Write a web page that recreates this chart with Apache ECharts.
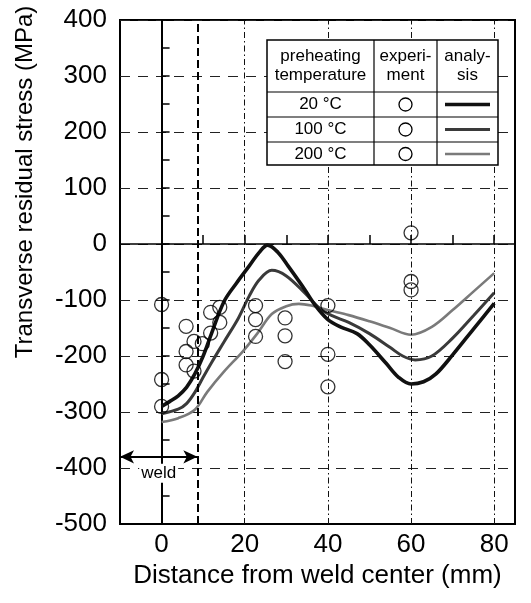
<!DOCTYPE html>
<html>
<head>
<meta charset="utf-8">
<script src="https://cdn.jsdelivr.net/npm/echarts@6/dist/echarts.min.js"></script>
<style>
html,body{margin:0;padding:0;background:#fff;}
#chart{width:531px;height:603px;}
</style>
</head>
<body>
<div id="chart"></div>
<script>
// ---- data ----
const yTicks = [-500,-400,-300,-200,-100,0,100,200,300,400];
const xTickLabels = [0,20,40,60,80];
const gridX = [20,40,60,80];
const weldEdge = 8.6;
const weldArrowY = -380;
const weldArrowStart = -10;

const seriesNames = ['20 °C','100 °C','200 °C'];

const t20X = [0,2,4,6,8,10,12,15,18,21,23.5,25.5,28,30.5,34.5,37,40,43,47,50,54,57,60,63,66,70,75,80];
const t20Y = [-290,-281,-271,-256,-232,-200,-160,-103,-70,-40,-15,-2,-15,-40,-82,-110,-135,-148,-160,-180,-213,-238,-250,-246,-232,-198,-152,-106];

const t100X = [0,4,6,8,10,12,15,18.5,21,23.5,26.5,30,34.5,38,41,45,50,55,58,61,65,70,75,80];
const t100Y = [-303,-295,-285,-265,-238,-212,-175,-132,-94,-64,-47,-57,-88,-115,-128,-140,-160,-185,-200,-207,-200,-168,-128,-87];

const t200X = [0,4,8,11,15,19.5,23,26.5,30,33,36,40,45,50,55,60,65,70,75,80];
const t200Y = [-318,-311,-296,-264,-228,-192,-160,-125,-111,-107,-110,-118,-127,-138,-150,-162,-148,-118,-85,-52];

const expX = [0,0,0,5.9,5.9,5.9,7.8,7.8,9.8,11.8,11.8,14,14,22.6,22.6,22.6,29.7,29.7,29.7,40,40,40,60,60,60];
const expY = [-108,-242,-290,-147,-192,-216,-174,-227,-178,-159,-122,-113,-140,-110,-135,-165,-132,-164,-210,-110,-197,-255,20,-67,-82];

// ---- build ----
const zip = (xs, ys) => xs.map((x, i) => [x, ys[i]]);
const FONT = 'Liberation Sans, Arial, sans-serif';
const lineColors = ['#111111','#3a3a3a','#7a7a7a'];
const lineWidths = [3.6, 3, 2.6];

const chart = echarts.init(document.getElementById('chart'), null, {renderer:'canvas'});

const lineSeries = [[t20X,t20Y],[t100X,t100Y],[t200X,t200Y]].map((d, i) => ({
  name: seriesNames[i],
  type: 'line',
  xAxisIndex: 0, yAxisIndex: 0,
  data: zip(d[0], d[1]),
  smooth: 0.35,
  showSymbol: false,
  symbol: 'none',
  lineStyle: {color: lineColors[i], width: lineWidths[i]},
  z: 5 - i
}));

const option = {
  animation: false,
  backgroundColor: '#fff',
  textStyle: {fontFamily: FONT},
  grid: {left: 120, right: 16, top: 20, bottom: 79, show: true, borderColor: '#000', borderWidth: 2, backgroundColor: 'transparent'},
  xAxis: [
    {
      type: 'value', min: -10, max: 85, interval: 10,
      axisLine: {onZero: false, lineStyle: {color: '#000', width: 2}},
      axisTick: {show: false},
      splitLine: {show: false},
      axisLabel: {
        fontSize: 26, color: '#000', margin: 8, fontFamily: FONT,
        showMinLabel: false, showMaxLabel: false,
        formatter: v => xTickLabels.includes(v) ? String(v) : ''
      },
      name: 'Distance from weld center (mm)',
      nameLocation: 'middle', nameGap: 38,
      nameTextStyle: {fontSize: 26, color: '#000', fontFamily: FONT}
    },
    {
      type: 'value', min: -10, max: 85, interval: 10, position: 'bottom',
      axisLine: {onZero: true, show: true, lineStyle: {color: '#000', width: 1.5}},
      axisTick: {show: true, inside: true, length: 9, lineStyle: {color: '#000', width: 1.5}},
      axisLabel: {show: false},
      splitLine: {show: false}
    }
  ],
  yAxis: [
    {
      type: 'value', min: yTicks[0], max: yTicks[yTicks.length-1], interval: 100,
      axisLine: {show: true, lineStyle: {color: '#000', width: 2}},
      axisTick: {show: false},
      axisLabel: {fontSize: 26, color: '#000', margin: 13, fontFamily: FONT},
      splitLine: {show: true, lineStyle: {type: [10, 8], color: '#222', width: 1}},
      name: 'Transverse residual stress (MPa)',
      nameLocation: 'middle', nameGap: 83,
      nameTextStyle: {fontSize: 24, color: '#000', fontFamily: FONT, padding: [0, 0, 0, 180]}
    },
    {
      type: 'value', min: -500, max: 400, interval: 50, position: 'left',
      axisLine: {onZero: true, show: true, lineStyle: {color: '#000', width: 1.5}},
      axisTick: {show: true, inside: true, length: 8, lineStyle: {color: '#000', width: 1.5}},
      axisLabel: {show: false},
      splitLine: {show: false}
    }
  ],
  series: [
    ...lineSeries,
    {
      name: 'experiment',
      type: 'scatter',
      xAxisIndex: 0, yAxisIndex: 0,
      data: zip(expX, expY),
      symbol: 'circle',
      symbolSize: 14,
      itemStyle: {color: 'rgba(255,255,255,0)', borderColor: '#000', borderWidth: 1.3},
      z: 6,
      markLine: {
        silent: true,
        symbol: 'none',
        animation: false,
        label: {show: false},
        data: [
          ...gridX.map(v => ({xAxis: v, lineStyle: {type: [6, 3, 1.5, 3], color: '#111', width: 1}})),
          {xAxis: weldEdge, lineStyle: {type: [8, 4], color: '#000', width: 2}},
          [
            {coord: [weldArrowStart, weldArrowY], symbol: 'arrow', symbolSize: [10, 14]},
            {coord: [weldEdge, weldArrowY], symbol: 'arrow', symbolSize: [10, 14],
             lineStyle: {type: 'solid', color: '#000', width: 2},
             label: {show: true, formatter: 'weld', position: 'insideMiddleBottom', distance: 7, fontSize: 17, color: '#000', fontFamily: FONT, backgroundColor: '#fff', padding: [1, 2, 1, 2]}}
          ]
        ]
      }
    }
  ],
  graphic: (function(){
    const L = 267, T = 40;
    const W = 231, H = 125, c1 = 107, c2 = 170, r1 = 52, r2 = 77, r3 = 102;
    const rowC = [64.5, 89.5, 114];
    const Z = 100;
    const ch = [];
    ch.push({type:'rect', z:Z, shape:{x:L,y:T,width:W,height:H}, style:{fill:'#fff', stroke:'#000', lineWidth:1.5}});
    [c1, c2].forEach(x => ch.push({type:'line', z:Z+1, shape:{x1:L+x,y1:T,x2:L+x,y2:T+H}, style:{stroke:'#000', lineWidth:1.2}}));
    [r1, r2, r3].forEach(y => ch.push({type:'line', z:Z+1, shape:{x1:L,y1:T+y,x2:L+W,y2:T+y}, style:{stroke:'#000', lineWidth:1.2}}));
    const hdr = [['preheating\ntemperature', c1/2], ['experi-\nment', (c1+c2)/2], ['analy-\nsis', (c2+W)/2]];
    hdr.forEach(h => ch.push({type:'text', z:Z+2, x:L+h[1], y:T+r1/2, style:{text:h[0], fill:'#000', font:'17px ' + FONT, align:'center', verticalAlign:'middle', lineHeight:19}}));
    seriesNames.forEach((n, i) => {
      ch.push({type:'text', z:Z+2, x:L+c1/2, y:T+rowC[i], style:{text:n, fill:'#000', font:'17px ' + FONT, align:'center', verticalAlign:'middle'}});
      ch.push({type:'circle', z:Z+2, shape:{cx:L+(c1+c2)/2, cy:T+rowC[i], r:6.5}, style:{fill:'none', stroke:'#000', lineWidth:1.3}});
      ch.push({type:'line', z:Z+2, shape:{x1:L+178, y1:T+rowC[i], x2:L+223, y2:T+rowC[i]}, style:{stroke:lineColors[i], lineWidth:lineWidths[i]}});
    });
    return ch;
  })()
};
chart.setOption(option);
</script>
</body>
</html>
